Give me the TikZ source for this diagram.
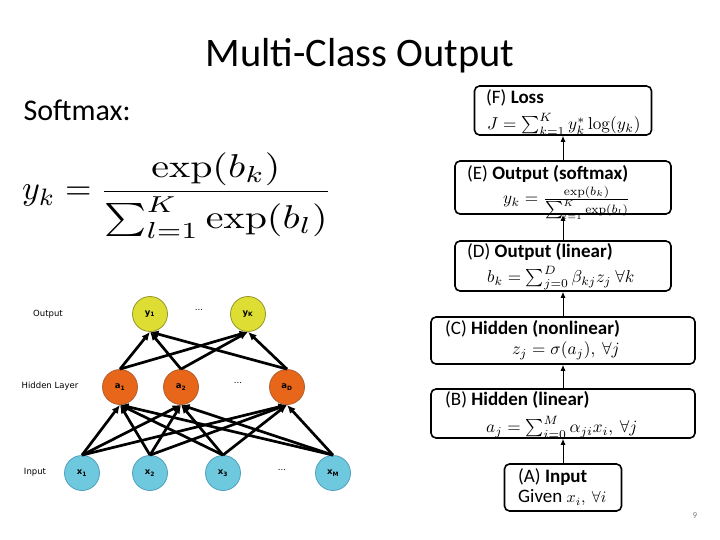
\documentclass[tikz,border=0pt]{standalone}
\usepackage[no-math]{fontspec}
\setmainfont{Carlito}
\newfontfamily\netfont{DejaVu Sans}
\usetikzlibrary{arrows.meta,positioning}

\definecolor{outyellow}{RGB}{221,221,51}
\definecolor{outedge}{RGB}{150,150,40}
\definecolor{hidorange}{RGB}{232,102,26}
\definecolor{hidedge}{RGB}{175,95,45}
\definecolor{inblue}{RGB}{110,200,222}
\definecolor{inedge}{RGB}{80,160,190}

\newcommand{\boxmath}[1]{\scalebox{1.72}{$#1$}}

\tikzset{
  unit/.style={circle, minimum size=35pt, inner sep=0pt, line width=0.8pt,
    font=\netfont\bfseries\fontsize{8.5}{10}\selectfont},
  outunit/.style={unit, fill=outyellow, draw=outedge},
  hidunit/.style={unit, fill=hidorange, draw=hidedge},
  inunit/.style={unit, fill=inblue, draw=inedge},
  link/.style={line width=2.7pt, -{Latex[length=8.5pt,width=7.5pt]}},
  laylabel/.style={font=\netfont\fontsize{8.5}{10}\selectfont},
  dots/.style={font=\netfont\fontsize{8.5}{10}\selectfont},
  stagebox/.style={draw, line width=1.6pt, rounded corners=5pt},
  stagetext/.style={anchor=west, inner sep=0pt, font=\fontsize{19}{22}\selectfont},
  stagemath/.style={anchor=west, inner sep=0pt},
  flow/.style={line width=0.9pt, -{Latex[length=6pt,width=5pt]}},
}

\begin{document}
\begin{tikzpicture}[x=1pt,y=-1pt]
\useasboundingbox (0,0) rectangle (720,540);

\node (title)   at (360,56) {\fontsize{40.5}{48}\selectfont Multi-Class Output};
\node[anchor=west] (softmax) at (20,110) {\fontsize{30}{36}\selectfont Softmax:};
\node[anchor=base west, inner sep=0pt] (softeq) at (22,200)
  {\scalebox{3.4}{$y_k =$}\hspace{8pt}%
   \scalebox{4.0}[3.3]{$\displaystyle\frac{\exp(b_k)}{\sum_{l=1}^{K}\exp(b_l)}$}};

% network
\foreach \name/\x/\lab in {x1/82/1, x2/150/2, x3/223/3, xM/333/M}
  \node[inunit] (\name) at (\x,473) {x\textsubscript{\lab}};
\foreach \name/\x/\lab in {a1/120/1, a2/181/2, aD/287/D}
  \node[hidunit] (\name) at (\x,387) {a\textsubscript{\lab}};
\foreach \name/\x/\lab in {y1/150/1, yK/248/K}
  \node[outunit] (\name) at (\x,314) {y\textsubscript{\lab}};

\node[dots] (outdots) at (199,310) {...};
\node[dots] (hiddots) at (238,383) {...};
\node[dots] (indots)  at (282,470) {...};

\foreach \i in {x1,x2,x3,xM}
  \foreach \j in {a1,a2,aD}
    \draw[link] (\i.north) -- (\j.south);
\foreach \j in {a1,a2,aD}
  \foreach \k in {y1,yK}
    \draw[link] (\j.north) -- (\k.south);

\node[laylabel] (outlab) at (48,314) {Output};
\node[laylabel] (hidlab) at (50,386) {Hidden Layer};
\node[laylabel] (inlab)  at (35,472) {Input};

% stages
\node[stagebox, minimum width=177pt, minimum height=49pt] (F) at (563,110.5) {};
\node[stagebox, minimum width=216pt, minimum height=53pt] (E) at (563,187.5) {};
\node[stagebox, minimum width=216pt, minimum height=50pt] (D) at (563,266) {};
\node[stagebox, minimum width=264pt, minimum height=47pt] (C) at (563,340.5) {};
\node[stagebox, minimum width=264pt, minimum height=49pt] (B) at (563,413.5) {};
\node[stagebox, minimum width=117pt, minimum height=47pt] (A) at (563,487.5) {};

\node[stagetext] (Ft) at (486,98) {(F) \textbf{Loss}};
\node[stagemath] (Fm) at (487,124) {\boxmath{J = \sum_{k=1}^{K} y_k^{*}\log(y_k)}};
\node[stagetext] (Et) at (467,174) {(E) \textbf{Output (softmax)}};
\node[stagemath] (Em) at (503,203) {\boxmath{y_k = \frac{\exp(b_k)}{\sum_{l=1}^{K}\exp(b_l)}}};
\node[stagetext] (Dt) at (467,252) {(D) \textbf{Output (linear)}};
\node[stagemath] (Dm) at (487,278) {\boxmath{b_k = \sum_{j=0}^{D}\beta_{kj}z_j\ \forall k}};
\node[stagetext] (Ct) at (445,329) {(C) \textbf{Hidden (nonlinear)}};
\node[stagemath] (Cm) at (512,351) {\boxmath{z_j = \sigma(a_j),\ \forall j}};
\node[stagetext] (Bt) at (445,400) {(B) \textbf{Hidden (linear)}};
\node[stagemath] (Bm) at (486,427) {\boxmath{a_j = \sum_{i=0}^{M}\alpha_{ji}x_i,\ \forall j}};
\node[stagetext] (At) at (518,477) {(A) \textbf{Input}};
\node[stagetext] (Am) at (518,498) {Given {\normalsize\scalebox{1.6}{$x_i,\ \forall i$}}};

\draw[flow] (A) -- (B);
\draw[flow] (B) -- (C);
\draw[flow] (C) -- (D);
\draw[flow] (D) -- (E);
\draw[flow] (E) -- (F);

\node[text=gray] (pagenum) at (695,516) {\fontsize{9}{10}\selectfont 9};

\end{tikzpicture}
\end{document}
